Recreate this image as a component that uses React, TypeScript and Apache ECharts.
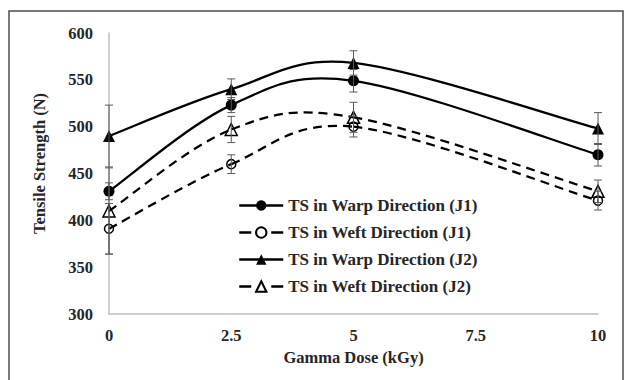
import React, { useEffect, useRef } from "react";
import * as echarts from "echarts";

// Gamma dose (kGy) and tensile strength (N) for each fabric / direction
const doses = [0, 2.5, 5, 10];
const warpJ1 = [431, 523, 549, 470];
const weftJ1 = [391, 460, 500, 421];
const warpJ2 = [490, 540, 568, 498];
const weftJ2 = [410, 497, 510, 431];

// Standard deviations (± N)
const warpJ1Err = [9, 8, 12, 12];
const weftJ1Err = [27, 10, 11, 10];
const warpJ2Err = [33, 11, 13, 17];
const weftJ2Err = [46, 14, 16, 12];

const seriesNames = [
  "TS in Warp Direction (J1)",
  "TS in Weft Direction (J1)",
  "TS in Warp Direction (J2)",
  "TS in Weft Direction (J2)",
];

const yTicks = { min: 300, max: 600, step: 50 };
const xTicks = { min: 0, max: 10, step: 2.5 };

const FONT = "'Liberation Serif', 'Times New Roman', serif";
const TEXT = "#262626";
const LINE_W = 2.25;
const DASH = [9, 6];

function pairs(values: number[]) {
  return doses.map((d, i) => [d, values[i]]);
}

function errRows(values: number[], errs: number[]) {
  return doses.map((d, i) => [d, values[i] - errs[i], values[i] + errs[i]]);
}

// Vertical error bars with caps
function errorSeries(values: number[], errs: number[]) {
  return {
    type: "custom",
    silent: true,
    z: 5,
    data: errRows(values, errs),
    renderItem: (_params: any, api: any) => {
      const x = api.value(0);
      const lo = api.coord([x, api.value(1)]);
      const hi = api.coord([x, api.value(2)]);
      const half = 4;
      const style = { stroke: "#595959", lineWidth: 1 };
      return {
        type: "group",
        children: [
          { type: "line", shape: { x1: lo[0], y1: lo[1], x2: hi[0], y2: hi[1] }, style },
          { type: "line", shape: { x1: lo[0] - half, y1: lo[1], x2: lo[0] + half, y2: lo[1] }, style },
          { type: "line", shape: { x1: hi[0] - half, y1: hi[1], x2: hi[0] + half, y2: hi[1] }, style },
        ],
      };
    },
  };
}

// Smoothed connecting curve (Catmull-Rom style cubic segments)
function curveSeries(values: number[], dashed: boolean) {
  const n = doses.length;
  return {
    type: "custom",
    silent: true,
    z: 3,
    data: pairs(values),
    renderItem: (params: any, api: any) => {
      const i = params.dataIndex;
      if (i >= n - 1) return null;
      const pt = (k: number) => {
        const j = Math.max(0, Math.min(n - 1, k));
        return api.coord([doses[j], values[j]]);
      };
      const p0 = pt(i - 1);
      const p1 = pt(i);
      const p2 = pt(i + 1);
      const p3 = pt(i + 2);
      return {
        type: "bezierCurve",
        shape: {
          x1: p1[0],
          y1: p1[1],
          x2: p2[0],
          y2: p2[1],
          cpx1: p1[0] + (p2[0] - p0[0]) / 6,
          cpy1: p1[1] + (p2[1] - p0[1]) / 6,
          cpx2: p2[0] - (p3[0] - p1[0]) / 6,
          cpy2: p2[1] - (p3[1] - p1[1]) / 6,
        },
        style: {
          fill: "none",
          stroke: "#000",
          lineWidth: LINE_W,
          lineDash: dashed ? DASH : null,
        },
      };
    },
  };
}

function markerSeries(name: string, values: number[], symbol: string, filled: boolean, size: number) {
  return {
    name,
    type: "line",
    data: pairs(values),
    symbol,
    symbolSize: size,
    showSymbol: true,
    z: 4,
    lineStyle: { color: "#000", width: LINE_W, opacity: 0 },
    itemStyle: filled
      ? { color: "#000", borderColor: "#000", borderWidth: 0 }
      : { color: "rgba(0,0,0,0)", borderColor: "#000", borderWidth: 1.5 },
  };
}

function legendItem(name: string, dashed: boolean) {
  return {
    name,
    lineStyle: {
      color: "#000",
      width: 2.5,
      opacity: 1,
      type: dashed ? [12, 20] : "solid",
    },
  };
}

export default function App() {
  const ref = useRef<HTMLDivElement>(null);

  useEffect(() => {
    if (!ref.current) return;
    const chart = echarts.init(ref.current, undefined, { renderer: "svg" });

    chart.setOption({
      animation: false,
      backgroundColor: "#fff",
      graphic: [
        {
          type: "rect",
          shape: { x: 9, y: 11, width: 614, height: 375 },
          style: { fill: "none", stroke: "#4d4d4d", lineWidth: 1.5 },
          silent: true,
          z: -1,
        },
      ],
      grid: { left: 109, right: 26, top: 33, bottom: 66, containLabel: false },
      legend: {
        orient: "vertical",
        left: 238,
        top: 197,
        padding: 0,
        itemWidth: 44,
        itemHeight: 13,
        itemGap: 10,
        selectedMode: false,
        data: [
          legendItem(seriesNames[0], false),
          legendItem(seriesNames[1], true),
          legendItem(seriesNames[2], false),
          legendItem(seriesNames[3], true),
        ],
        textStyle: { fontFamily: FONT, fontWeight: "bold", fontSize: 17, color: TEXT },
      },
      xAxis: {
        type: "value",
        min: xTicks.min,
        max: xTicks.max,
        interval: xTicks.step,
        name: "Gamma Dose (kGy)",
        nameLocation: "middle",
        nameGap: 35,
        nameTextStyle: { fontFamily: FONT, fontWeight: "bold", fontSize: 16.5, color: TEXT },
        axisLine: { show: true, lineStyle: { color: "#bfbfbf", width: 1.5 } },
        axisTick: { show: false },
        splitLine: { show: false },
        axisLabel: { margin: 13, fontFamily: FONT, fontWeight: "bold", fontSize: 16.5, color: TEXT },
      },
      yAxis: {
        type: "value",
        min: yTicks.min,
        max: yTicks.max,
        interval: yTicks.step,
        name: "Tensile Strength (N)",
        nameLocation: "middle",
        nameGap: 61,
        nameTextStyle: {
          fontFamily: FONT,
          fontWeight: "bold",
          fontSize: 16.5,
          color: TEXT,
          padding: [0, 0, 0, 20],
        },
        axisLine: { show: true, lineStyle: { color: "#bfbfbf", width: 1.5 } },
        axisTick: { show: false },
        splitLine: { show: false },
        axisLabel: { margin: 16, fontFamily: FONT, fontWeight: "bold", fontSize: 16.5, color: TEXT },
      },
      series: [
        markerSeries(seriesNames[0], warpJ1, "circle", true, 11),
        markerSeries(seriesNames[1], weftJ1, "circle", false, 9),
        markerSeries(seriesNames[2], warpJ2, "triangle", true, 12),
        markerSeries(seriesNames[3], weftJ2, "triangle", false, 12),
        curveSeries(warpJ1, false),
        curveSeries(weftJ1, true),
        curveSeries(warpJ2, false),
        curveSeries(weftJ2, true),
        errorSeries(warpJ1, warpJ1Err),
        errorSeries(weftJ1, weftJ1Err),
        errorSeries(warpJ2, warpJ2Err),
        errorSeries(weftJ2, weftJ2Err),
      ],
    });

    return () => chart.dispose();
  }, []);

  return (
    <div
      ref={ref}
      style={{ position: "absolute", left: 0, top: 0, width: 624, height: 380 }}
    />
  );
}
